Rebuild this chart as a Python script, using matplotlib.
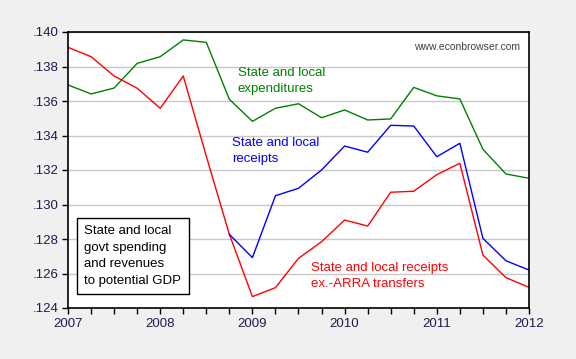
import numpy as np
import matplotlib
matplotlib.use("Agg")
import matplotlib.pyplot as plt
from matplotlib.ticker import FixedLocator, FuncFormatter

plt.rcParams['font.family'] = ['Liberation Sans', 'DejaVu Sans']

# quarterly, 2007Q1 .. 2012Q1
quarters = [2007 + 0.25 * i for i in range(21)]

expenditures = [.13693, .13641, .13675, .13818, .13857, .13954, .13940, .13610,
                .13482, .13558, .13584, .13503, .13548, .13490, .13496, .13679,
                .13630, .13612, .13320, .13177, .13152]

receipts_ex_arra = [.13911, .13857, .13745, .13674, .13558, .13745, .13280, .12827,
                    .12466, .12518, .12688, .12784, .12910, .12875, .13071, .13077,
                    .13173, .13239, .12707, .12576, .12520]

# receipts incl. ARRA, drawn from 2008Q4 on (same as above before that)
receipts_dates = quarters[7:]
receipts = [.12827, .12692, .13051, .13094, .13200, .13339, .13303, .13459,
            .13455, .13277, .13355, .12804, .12674, .12620]

yticks = [.124, .126, .128, .130, .132, .134, .136, .138, .140]
years = [2007, 2008, 2009, 2010, 2011, 2012]

label_color = '#1c1c50'

fig = plt.figure(figsize=(5.76, 3.59), dpi=100)
fig.patch.set_facecolor('#f0f0f0')
ax = fig.add_axes([68 / 576, 1 - 308 / 359, 461 / 576, 276 / 359])
ax.set_facecolor('white')

ax.plot(quarters, expenditures, color='#008000', lw=1.0)
ax.plot(quarters, receipts_ex_arra, color='#ff0000', lw=1.0)
ax.plot(receipts_dates, receipts, color='#0000ff', lw=1.0)

ax.set_xlim(2007, 2012)
ax.set_ylim(.124, .140)

ax.yaxis.set_major_locator(FixedLocator(yticks))
ax.yaxis.set_major_formatter(FuncFormatter(lambda v, p: ('%.3f' % v)[1:]))
ax.xaxis.set_major_locator(FixedLocator(years))
ax.xaxis.set_minor_locator(FixedLocator(quarters))
ax.xaxis.set_major_formatter(FuncFormatter(lambda v, p: '%d' % v))

ax.grid(axis='y', color='#c8c8c8', lw=1.0)
ax.set_axisbelow(True)
ax.tick_params(axis='both', which='both', direction='out', length=4, width=1,
               labelsize=9.5, labelcolor=label_color, color='black')
ax.tick_params(axis='x', pad=3)
ax.tick_params(axis='y', pad=3)
for s in ax.spines.values():
    s.set_linewidth(1.2)
    s.set_color('black')

ax.text(2008.84, .13797, 'State and local\nexpenditures', color='#008000',
        fontsize=9.5, va='top', ha='left', linespacing=1.48)
ax.text(2008.78, .13391, 'State and local\nreceipts', color='#0000ff',
        fontsize=9.5, va='top', ha='left', linespacing=1.48)
ax.text(2009.64, .12667, 'State and local receipts\nex.-ARRA transfers', color='#ff0000',
        fontsize=9.5, va='top', ha='left', linespacing=1.48)
ax.text(2011.9, .1394, 'www.econbrowser.com', color='#404040',
        fontsize=7.5, va='top', ha='right')
ax.text(2007.177, .12881, 'State and local\ngovt spending\nand revenues\nto potential GDP',
        color='black', fontsize=9.5, va='top', ha='left', linespacing=1.5,
        bbox=dict(boxstyle='square,pad=0.55', fc='white', ec='black', lw=1.0))

fig.savefig('out.png', dpi=100, facecolor=fig.get_facecolor())
